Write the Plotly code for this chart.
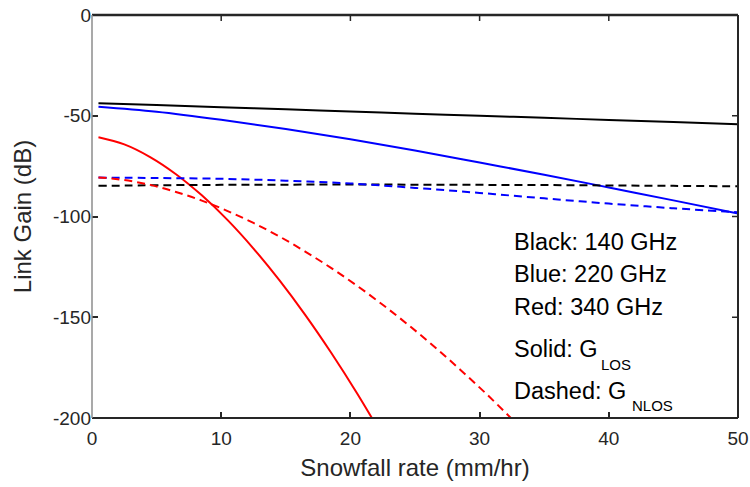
import plotly.graph_objects as go

# Snowfall rate samples (mm/hr) and link gain (dB) for each carrier
rate_a = [0.5, 5, 10, 15, 20, 25, 30, 35, 40, 45, 50]
gain_140_los = [-43.8, -44.7, -45.8, -46.8, -47.9, -49.0, -50.0, -51.0, -52.1, -53.1, -54.2]
gain_140_nlos = [-84.8, -84.5, -84.3, -84.2, -84.1, -84.2, -84.3, -84.4, -84.6, -84.8, -85.0]
gain_220_los = [-45.5, -48.0, -52.0, -56.6, -61.7, -67.2, -73.2, -79.3, -85.6, -92.0, -98.5]
gain_220_nlos = [-80.7, -80.9, -81.3, -82.2, -83.6, -85.8, -88.3, -91.0, -93.6, -95.9, -97.9]

rate_r = [0.5, 2.5, 4.5, 6.5, 8.5, 10.5, 12.5, 14.5, 16.5, 18.5, 20.5, 22.5,
          24.5, 26.5, 28.5, 30.5, 32.5, 34.5]
gain_340_los = [-60.7, -64.2, -70.5, -79.0, -89.5, -101.8, -115.9, -131.6, -148.8, -167.5,
                -187.6, -209.1]
gain_340_nlos = [-80.6, -81.9, -84.3, -87.8, -92.1, -97.3, -103.2, -109.9, -117.4, -125.5,
                 -134.3, -143.8, -153.9, -164.6, -176.0, -187.9, -200.5, -213.6]

x_ticks = [0, 10, 20, 30, 40, 50]
y_ticks = [0, -50, -100, -150, -200]

FONT = "Arial, Liberation Sans, sans-serif"
INK = "#262626"
DASH = "8px,5px"

fig = go.Figure()
series = [
    (rate_a, gain_140_los, "#000000", "solid"),
    (rate_a, gain_220_los, "#0000ff", "solid"),
    (rate_r[:len(gain_340_los)], gain_340_los, "#ff0000", "solid"),
    (rate_a, gain_140_nlos, "#000000", DASH),
    (rate_a, gain_220_nlos, "#0000ff", DASH),
    (rate_r, gain_340_nlos, "#ff0000", DASH),
]
for xs, ys, col, dash in series:
    fig.add_trace(go.Scatter(x=xs, y=ys, mode="lines", showlegend=False,
                             line=dict(color=col, width=2, dash=dash, shape="spline", smoothing=1.0)))

axis_common = dict(showgrid=False, zeroline=False, showline=False,
                   ticks="inside", ticklen=6, tickwidth=1.5, tickcolor=INK,
                   automargin=False,
                   tickfont=dict(family=FONT, size=19, color=INK))

fig.update_xaxes(range=[0, 50], tickvals=x_ticks, ticktext=[str(v) for v in x_ticks],
                 ticklabelstandoff=7,
                 title=dict(text="Snowfall rate (mm/hr)", font=dict(family=FONT, size=24, color=INK),
                            standoff=11),
                 **axis_common)
fig.update_yaxes(range=[-200, 0], tickvals=y_ticks, ticktext=[str(v) for v in y_ticks],
                 title=dict(text="Link Gain (dB)", font=dict(family=FONT, size=24, color=INK),
                            standoff=14),
                 **axis_common)

# box frame: dark top, right and bottom edges, lighter left edge
fig.add_shape(type="line", xref="paper", yref="paper", x0=0, x1=1, y0=1, y1=1,
              line=dict(color=INK, width=2.5), layer="above")
fig.add_shape(type="line", xref="paper", yref="paper", x0=1, x1=1, y0=0, y1=1,
              line=dict(color=INK, width=2), layer="above")
fig.add_shape(type="line", xref="paper", yref="paper", x0=0, x1=1, y0=0, y1=0,
              line=dict(color=INK, width=2), layer="above")
fig.add_shape(type="line", xref="paper", yref="paper", x0=0, x1=0, y0=0, y1=1,
              line=dict(color="#8c8c8c", width=1.5), layer="above")

# mirrored inside ticks along the top and right edges
for xv in x_ticks[1:-1]:
    fig.add_shape(type="line", xref="x", yref="paper", x0=xv, x1=xv, y0=1, y1=1 - 6 / 403,
                  line=dict(color=INK, width=1.5))
for yv in y_ticks[1:-1]:
    fig.add_shape(type="line", xref="paper", yref="y", x0=1, x1=1 - 6 / 646, y0=yv, y1=yv,
                  line=dict(color=INK, width=1.5))

# plot area in pixels: left, right, top, bottom
W, H = 750, 487
L, R, T, B = 92, 738, 15, 418

# key text in the lower right (pixel positions)
notes = [
    ("Black: 140 GHz", 512, 242, 23.5),
    ("Blue: 220 GHz", 512, 274, 23.5),
    ("Red: 340 GHz", 512, 307, 23.5),
    ("Solid: G", 512, 349, 23.5),
    ("LOS", 599, 364, 15),
    ("Dashed: G", 512, 391, 23.5),
    ("NLOS", 630, 405, 15),
]
for txt, px, py, fs in notes:
    fig.add_annotation(text=txt, x=(px - L) / (R - L), y=(B - py) / (B - T),
                       xref="paper", yref="paper",
                       xanchor="left", yanchor="middle", showarrow=False,
                       font=dict(family=FONT, size=fs, color="#000000"))

fig.update_layout(width=W, height=H, plot_bgcolor="white", paper_bgcolor="white",
                  margin=dict(l=L, r=W - R, t=T, b=H - B, autoexpand=False))

fig.write_html("out.html")
